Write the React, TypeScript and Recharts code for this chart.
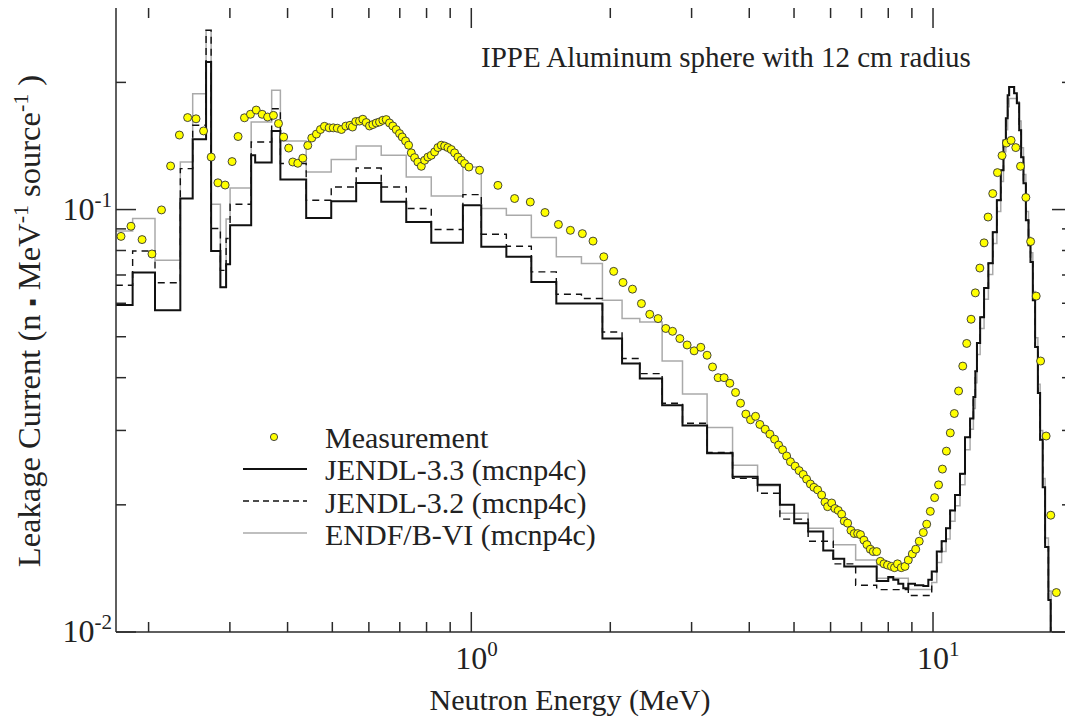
import React from "react";
import { ComposedChart, Line, Scatter, XAxis, YAxis } from "recharts";

const FONT = "'Liberation Serif', 'Times New Roman', Times, serif";
const AXIS = "#2a2a2a";

const X_DOMAIN = [0.17, 20];
const Y_DOMAIN = [0.01, 0.3];
const X_TICKS = [0.2, 0.3, 0.4, 0.5, 0.6, 0.7, 0.8, 0.9, 1, 2, 3, 4, 5, 6, 7, 8, 9, 10];
const Y_TICKS = [0.01, 0.02, 0.03, 0.04, 0.05, 0.06, 0.07, 0.08, 0.09, 0.1, 0.2];
const X_LABELS: Record<number, string> = { 1: "0", 10: "1" };
const Y_LABELS: Record<number, string> = { 0.01: "-2", 0.1: "-1" };

// plot frame (chart is 1080 wide, clipped to 1065 like the original)
const PLOT_TOP = 8;
const PLOT_RIGHT = 1072;

// Measurement (MeV, n/MeV/source)
const MEAS_E = [
  0.1743, 0.1832, 0.1936, 0.2034, 0.2133, 0.2232, 0.2332, 0.243, 0.2534, 0.2631,
  0.2733, 0.2826, 0.293, 0.3033, 0.3125, 0.3226, 0.3324, 0.3421, 0.3523, 0.3621,
  0.3728, 0.3823, 0.3923, 0.4022, 0.4105, 0.4209, 0.4315, 0.4424, 0.4513, 0.4619,
  0.4713, 0.4808, 0.4922, 0.5024, 0.5125, 0.5233, 0.5348, 0.5461, 0.5529, 0.562,
  0.5726, 0.5821, 0.5921, 0.6019, 0.6119, 0.6225, 0.6327, 0.6433, 0.6542, 0.6651,
  0.6761, 0.6877, 0.6992, 0.7086, 0.7205, 0.7314, 0.7413, 0.7537, 0.7661, 0.7793,
  0.7923, 0.8054, 0.819, 0.8327, 0.8466, 0.861, 0.8753, 0.8898, 0.905, 0.9201,
  0.9354, 0.9513, 0.9672, 0.9881, 1.042, 1.142, 1.241, 1.342, 1.444, 1.544,
  1.639, 1.74, 1.835, 1.936, 2.034, 2.131, 2.234, 2.336, 2.435, 2.538,
  2.638, 2.728, 2.829, 2.934, 3.038, 3.141, 3.241, 3.33, 3.424, 3.528,
  3.63, 3.735, 3.829, 3.932, 4.025, 4.127, 4.217, 4.33, 4.433, 4.538,
  4.63, 4.723, 4.819, 4.911, 5.027, 5.129, 5.234, 5.324, 5.426, 5.521,
  5.625, 5.738, 5.834, 5.912, 6.032, 6.132, 6.234, 6.341, 6.423, 6.533,
  6.642, 6.752, 6.868, 6.965, 7.086, 7.193, 7.314, 7.424, 7.551, 7.689,
  7.832, 7.97, 8.128, 8.253, 8.377, 8.537, 8.696, 8.841, 9.019, 9.174,
  9.336, 9.528, 9.69, 9.867, 10.08, 10.28, 10.48, 10.69, 10.9, 11.12,
  11.36, 11.6, 11.83, 12.09, 12.35, 12.63, 12.9, 13.16, 13.47, 13.79,
  14.11, 14.42, 14.76, 15.11, 15.47, 15.89, 16.27, 16.73, 17.1, 17.58,
  17.99, 18.5,
];
const MEAS_V = [
  0.0864, 0.0913, 0.0849, 0.0785, 0.0998, 0.1268, 0.1501, 0.1651, 0.164, 0.1535,
  0.1331, 0.1157, 0.1143, 0.1299, 0.1489, 0.1649, 0.1681, 0.172, 0.1681, 0.1656,
  0.1671, 0.1598, 0.1485, 0.1398, 0.1296, 0.1287, 0.1323, 0.1418, 0.1477, 0.1509,
  0.1547, 0.1574, 0.1561, 0.1561, 0.1558, 0.1547, 0.1576, 0.1583, 0.1568, 0.1616,
  0.162, 0.1636, 0.1607, 0.1577, 0.1589, 0.1603, 0.1612, 0.1627, 0.1633, 0.1603,
  0.1577, 0.1546, 0.1513, 0.1485, 0.1453, 0.142, 0.1362, 0.1327, 0.1296, 0.1266,
  0.1308, 0.1331, 0.1344, 0.1369, 0.1402, 0.142, 0.1414, 0.1402, 0.1387, 0.1362,
  0.1331, 0.1308, 0.1285, 0.1261, 0.1239, 0.1141, 0.1062, 0.1042, 0.0984, 0.0922,
  0.0893, 0.0877, 0.0842, 0.0773, 0.0714, 0.0672, 0.0648, 0.0599, 0.0565, 0.0552,
  0.0523, 0.0515, 0.0495, 0.0478, 0.0463, 0.0472, 0.0452, 0.0424, 0.04, 0.04,
  0.0388, 0.0369, 0.0348, 0.0328, 0.0318, 0.0324, 0.031, 0.0302, 0.0294, 0.0286,
  0.0277, 0.027, 0.0261, 0.0253, 0.0247, 0.0241, 0.0236, 0.023, 0.0224, 0.022,
  0.0217, 0.0211, 0.0203, 0.0198, 0.0202, 0.0196, 0.0194, 0.019, 0.0183, 0.0181,
  0.0174, 0.0171, 0.0171, 0.017, 0.0165, 0.0161, 0.0157, 0.0155, 0.0155, 0.0147,
  0.0145, 0.0144, 0.0143, 0.0142, 0.0145, 0.0142, 0.0143, 0.0148, 0.0153, 0.0157,
  0.0164, 0.0172, 0.018, 0.0193, 0.0208, 0.0223, 0.0243, 0.0268, 0.0296, 0.0329,
  0.0372, 0.0426, 0.0482, 0.055, 0.0635, 0.0727, 0.0834, 0.096, 0.1091, 0.1223,
  0.1342, 0.1437, 0.1458, 0.1402, 0.1266, 0.1068, 0.084, 0.0624, 0.0438, 0.0291,
  0.0189, 0.0124,
];

// JENDL-3.3 (mcnp4c): bin lower edges (last = upper edge of last bin)
const J33_E = [
  0.16, 0.1847, 0.2065, 0.2343, 0.2492, 0.2664, 0.2732, 0.2861, 0.2944, 0.3003,
  0.3336, 0.3403, 0.3695, 0.3859, 0.4389, 0.4973, 0.5632, 0.6381, 0.7229, 0.819,
  0.9589, 1.051, 1.191, 1.349, 1.528, 1.732, 1.923, 2.121, 2.317, 2.59,
  2.867, 3.241, 3.68, 4.169, 4.66, 5.004, 5.365, 5.784, 6.081, 6.423,
  6.799, 7.551, 8.0, 8.202, 8.41, 8.622, 8.841, 9.141, 9.528, 9.768,
  9.936, 10.19, 10.44, 10.67, 10.89, 11.16, 11.44, 11.73, 12.03, 12.23,
  12.35, 12.45, 12.65, 12.9, 13.18, 13.47, 13.75, 14.02, 14.21, 14.38,
  14.51, 14.62, 14.99, 15.19, 15.37, 15.52, 15.7, 15.89, 16.1, 16.26,
  16.45, 16.64, 16.87, 17.06, 17.28, 17.49, 17.78, 17.98,
];
const J33_V = [
  0.0594, 0.071, 0.0578, 0.1062, 0.1467, 0.2235, 0.0798, 0.0655, 0.0742, 0.0918,
  0.1345, 0.1292, 0.1535, 0.1178, 0.0955, 0.1046, 0.1156, 0.1044, 0.0935, 0.0834,
  0.1024, 0.0816, 0.0773, 0.0674, 0.0599, 0.0599, 0.0495, 0.0432, 0.0398, 0.0344,
  0.0308, 0.0265, 0.0233, 0.0223, 0.02, 0.0181, 0.0173, 0.0156, 0.0149, 0.0143,
  0.0143, 0.0132, 0.0135, 0.0133, 0.013, 0.0127, 0.013, 0.0129, 0.01285, 0.0133,
  0.0139, 0.0155, 0.0164, 0.0176, 0.0194, 0.0211, 0.0237, 0.0289, 0.032, 0.036,
  0.0414, 0.0483, 0.0556, 0.0652, 0.0746, 0.0884, 0.1052, 0.1239, 0.1458, 0.1644,
  0.1864, 0.195, 0.1884, 0.1784, 0.154, 0.1329, 0.1154, 0.0943, 0.0823, 0.0751,
  0.061, 0.0473, 0.0368, 0.0285, 0.022, 0.0159, 0.0119, 0.005,
];

// JENDL-3.2 (mcnp4c)
const J32_E = [
  0.16, 0.1847, 0.2065, 0.2343, 0.2492, 0.2664, 0.2732, 0.2861, 0.2944, 0.3003,
  0.3336, 0.3695, 0.3859, 0.4389, 0.4973, 0.5632, 0.6381, 0.7229, 0.819, 0.9589,
  1.051, 1.191, 1.349, 1.528, 1.732, 1.923, 2.121, 2.317, 2.59, 2.867,
  3.241, 3.68, 4.169, 4.66, 5.365, 6.081, 6.799, 7.551, 8.841, 9.936,
  10.19, 10.44, 10.67, 10.89, 11.16, 11.44, 11.73, 12.03, 12.23, 12.35,
  12.45, 12.65, 12.9, 13.18, 13.47, 13.75, 14.02, 14.21, 14.38, 14.51,
  14.62, 14.99, 15.19, 15.37, 15.52, 15.7, 15.89, 16.1, 16.26, 16.45,
  16.64, 16.87, 17.06, 17.28, 17.49, 17.78, 17.98,
];
const J32_V = [
  0.0662, 0.0798, 0.0671, 0.125, 0.1583, 0.2655, 0.0902, 0.0718, 0.0854, 0.1029,
  0.1445, 0.1733, 0.1285, 0.1052, 0.1131, 0.1254, 0.1131, 0.1006, 0.0897, 0.1085,
  0.0874, 0.0819, 0.0712, 0.063, 0.0616, 0.0513, 0.0444, 0.0409, 0.0348, 0.0312,
  0.0266, 0.0231, 0.0213, 0.0185, 0.0164, 0.0145, 0.0129, 0.0126, 0.0122, 0.0139,
  0.0155, 0.0164, 0.0176, 0.0194, 0.0211, 0.0237, 0.0289, 0.032, 0.036, 0.0414,
  0.0483, 0.0556, 0.0652, 0.0746, 0.0884, 0.1052, 0.1239, 0.1458, 0.1644, 0.1864,
  0.195, 0.1884, 0.1784, 0.154, 0.1329, 0.1154, 0.0943, 0.0823, 0.0751, 0.061,
  0.0473, 0.0368, 0.0285, 0.022, 0.0159, 0.0119, 0.005,
];

// ENDF/B-VI (mcnp4c)
const ENDF_E = [
  0.16, 0.1847, 0.2065, 0.2343, 0.2492, 0.2664, 0.2732, 0.2861, 0.2944, 0.3003,
  0.3336, 0.3695, 0.3859, 0.4389, 0.4973, 0.5632, 0.6381, 0.7229, 0.819, 0.9589,
  1.051, 1.191, 1.349, 1.528, 1.732, 1.923, 2.121, 2.317, 2.59, 2.867,
  3.241, 3.68, 4.169, 4.66, 5.365, 6.081, 6.799, 7.551, 8.841, 9.936,
  10.19, 10.44, 10.67, 10.89, 11.16, 11.44, 11.73, 12.03, 12.23, 12.35,
  12.45, 12.65, 12.9, 13.18, 13.47, 13.75, 14.02, 14.21, 14.38, 14.51,
  14.62, 14.99, 15.19, 15.37, 15.52, 15.7, 15.89, 16.1, 16.26, 16.45,
  16.64, 16.87, 17.06, 17.28, 17.49, 17.78, 18.02,
];
const ENDF_V = [
  0.089, 0.0952, 0.0759, 0.1296, 0.1881, 0.2666, 0.1029, 0.0655, 0.095, 0.1125,
  0.1612, 0.1915, 0.1453, 0.1227, 0.1313, 0.1414, 0.1345, 0.1194, 0.1077, 0.1261,
  0.1006, 0.0969, 0.0859, 0.0773, 0.0745, 0.061, 0.0552, 0.0542, 0.0438, 0.0366,
  0.0305, 0.0248, 0.0222, 0.0191, 0.0176, 0.0161, 0.0148, 0.0134, 0.0126, 0.0131,
  0.0146, 0.0155, 0.0166, 0.0183, 0.0199, 0.0223, 0.027, 0.0302, 0.0338, 0.0389,
  0.0454, 0.0523, 0.0613, 0.0702, 0.0831, 0.0989, 0.1165, 0.1371, 0.1545, 0.1752,
  0.1831, 0.1831, 0.18, 0.162, 0.14, 0.121, 0.099, 0.086, 0.079, 0.064,
  0.0497, 0.0386, 0.03, 0.0231, 0.0167, 0.0125, 0.005,
];

const toPts = (es: number[], vs: number[]) => es.map((e, i) => ({ e, v: vs[i] }));
const measData = toPts(MEAS_E, MEAS_V);
const j33Data = toPts(J33_E, J33_V);
const j32Data = toPts(J32_E, J32_V);
const endfData = toPts(ENDF_E, ENDF_V);

const XTick = (props: any) => {
  const { x, y, payload } = props;
  const sup = X_LABELS[payload.value];
  const len = sup ? 20 : 10;
  return (
    <g>
      <line x1={x} x2={x} y1={y} y2={y - len} stroke={AXIS} strokeWidth={1.5} />
      <line x1={x} x2={x} y1={PLOT_TOP} y2={PLOT_TOP + len} stroke={AXIS} strokeWidth={1.5} />
      {sup && (
        <text x={x - 16} y={y + 37} fontSize={32} fill="#222" fontFamily={FONT}>
          10
          <tspan dy={-13} fontSize={21}>{sup}</tspan>
        </text>
      )}
    </g>
  );
};

const YTick = (props: any) => {
  const { x, y, payload } = props;
  const sup = Y_LABELS[payload.value];
  const len = sup ? 20 : 10;
  return (
    <g>
      <line x1={x} x2={x + len} y1={y} y2={y} stroke={AXIS} strokeWidth={1.5} />
      <line x1={PLOT_RIGHT} x2={PLOT_RIGHT - len} y1={y} y2={y} stroke={AXIS} strokeWidth={1.5} />
      {sup && (
        <text x={x - 4} y={y + 10} textAnchor="end" fontSize={32} fill="#222" fontFamily={FONT}>
          10
          <tspan dy={-13} fontSize={21}>{sup}</tspan>
        </text>
      )}
    </g>
  );
};

const Dot = (p: any) => (
  <circle cx={p.cx} cy={p.cy} r={4} fill="#ffff00" stroke="#333" strokeWidth={0.9} />
);

export default function App() {
  return (
    <div
      style={{
        position: "absolute",
        left: 0,
        top: 0,
        width: 1065,
        height: 720,
        overflow: "hidden",
        background: "#fff",
      }}
    >
      <ComposedChart width={1080} height={720} margin={{ top: 8, right: 8, bottom: 0, left: 0 }}>
        <XAxis
          dataKey="e"
          type="number"
          scale="log"
          domain={X_DOMAIN}
          allowDataOverflow
          ticks={X_TICKS}
          interval={0}
          height={88}
          tickSize={0}
          tickMargin={0}
          tick={(p: any) => <XTick {...p} />}
          axisLine={{ stroke: AXIS, strokeWidth: 1.5 }}
        />
        <XAxis
          xAxisId="top"
          orientation="top"
          type="number"
          scale="log"
          domain={X_DOMAIN}
          allowDataOverflow
          height={0}
          tick={false}
          tickLine={false}
          axisLine={{ stroke: AXIS, strokeWidth: 1.5 }}
        />
        <YAxis
          type="number"
          scale="log"
          domain={Y_DOMAIN}
          allowDataOverflow
          ticks={Y_TICKS}
          interval={0}
          width={116}
          tickSize={0}
          tickMargin={0}
          tick={(p: any) => <YTick {...p} />}
          axisLine={{ stroke: AXIS, strokeWidth: 1.5 }}
        />
        <YAxis
          yAxisId="right"
          orientation="right"
          type="number"
          scale="log"
          domain={Y_DOMAIN}
          allowDataOverflow
          width={0}
          tick={false}
          tickLine={false}
          axisLine={{ stroke: AXIS, strokeWidth: 1.5 }}
        />
        <Line data={endfData} dataKey="v" type="stepAfter" stroke="#aaaaaa" strokeWidth={1.5} dot={false} activeDot={false} isAnimationActive={false} />
        <Line data={j32Data} dataKey="v" type="stepAfter" stroke="#111" strokeWidth={1.4} strokeDasharray="7 5" dot={false} activeDot={false} isAnimationActive={false} />
        <Line data={j33Data} dataKey="v" type="stepAfter" stroke="#111" strokeWidth={2} dot={false} activeDot={false} isAnimationActive={false} />
        <Scatter data={measData} dataKey="v" shape={Dot} isAnimationActive={false} />
      </ComposedChart>

      <svg
        width={1065}
        height={720}
        style={{ position: "absolute", left: 0, top: 0, pointerEvents: "none" }}
        fontFamily={FONT}
      >
        <text x={481} y={67} fontSize={29} fill="#222">
          IPPE Aluminum sphere with 12 cm radius
        </text>
        <text x={570} y={710} textAnchor="middle" fontSize={30} fill="#222">
          Neutron Energy (MeV)
        </text>
        <text transform="translate(40,321) rotate(-90)" textAnchor="middle" fontSize={32.5} fill="#222">
          Leakage Current (n <tspan fontSize={23}>▪</tspan> MeV
          <tspan dy={-12} fontSize={22}>-1</tspan>
          <tspan dy={12}> source</tspan>
          <tspan dy={-12} fontSize={22}>-1</tspan>
          <tspan dy={12}> )</tspan>
        </text>

        {/* legend */}
        <circle cx={274} cy={437} r={3.6} fill="#ffff00" stroke="#333" strokeWidth={0.9} />
        <line x1={243} x2={307} y1={469} y2={469} stroke="#111" strokeWidth={2} />
        <line x1={243} x2={307} y1={501} y2={501} stroke="#111" strokeWidth={1.4} strokeDasharray="6 4" />
        <line x1={243} x2={307} y1={533} y2={533} stroke="#aaaaaa" strokeWidth={1.5} />
        <text x={325} y={448} fontSize={30} fill="#222">Measurement</text>
        <text x={325} y={480} fontSize={30} fill="#222">JENDL-3.3 (mcnp4c)</text>
        <text x={325} y={513} fontSize={30} fill="#222">JENDL-3.2 (mcnp4c)</text>
        <text x={325} y={545} fontSize={30} fill="#222">ENDF/B-VI (mcnp4c)</text>
      </svg>
    </div>
  );
}
